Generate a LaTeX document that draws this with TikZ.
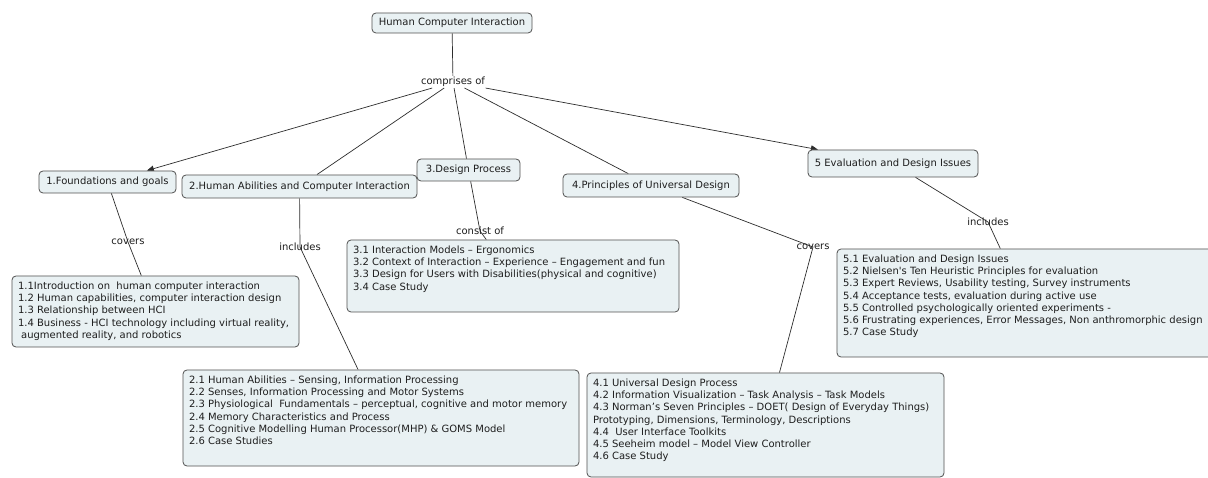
\documentclass[tikz,border=0pt]{standalone}
\usepackage{fontspec}
\setmainfont{DejaVu Sans}
\usetikzlibrary{arrows.meta}
\definecolor{boxfill}{RGB}{233,241,243}
\definecolor{boxdraw}{RGB}{80,80,80}
\definecolor{linkc}{RGB}{45,45,45}
\definecolor{txt}{RGB}{30,30,30}
\pgfdeclarelayer{connlayer}
\pgfsetlayers{connlayer,main}
\newcommand{\boxtext}[3]{\parbox[c][#1][t]{#2}{\fontsize{10}{12.2}\selectfont\raggedright\strut #3}}
\begin{document}
\begin{tikzpicture}[x=1pt,y=-1pt,
  concept/.style={draw=boxdraw, fill=boxfill, rounded corners=4pt, line width=0.8pt,
    inner sep=0pt, text=txt, font=\fontsize{10}{12}\selectfont},
  topicbox/.style={concept, inner xsep=6pt, inner ysep=5pt},
  linklbl/.style={inner sep=1pt, text=txt, font=\fontsize{10}{12}\selectfont},
  conn/.style={draw=linkc, line width=0.7pt},
  arr/.style={conn, -{Triangle[length=7pt,width=6pt]}}]
\useasboundingbox (0,0) rectangle (1208,478);
\clip (0,0) rectangle (1208,478);
\begin{pgfonlayer}{connlayer}
\fill[white] (0,0) rectangle (1208,478);
\end{pgfonlayer}

% main concepts
\node[concept, minimum width=160pt, minimum height=20pt] (hci) at (452,23) {Human Computer Interaction};
\node[linklbl] (comp) at (453,82) {comprises of};
\node[concept, minimum width=137pt, minimum height=22pt] (t1) at (107.5,182) {1.Foundations and goals};
\node[concept, minimum width=235pt, minimum height=23pt] (t2) at (299.5,186.5) {2.Human Abilities and Computer Interaction};
\node[concept, minimum width=103pt, minimum height=22pt] (t3) at (468.5,170) {3.Design Process};
\node[concept, minimum width=176pt, minimum height=23pt] (t4) at (651,185.5) {4.Principles of Universal Design};
\node[concept, minimum width=170pt, minimum height=27pt] (t5) at (893,163.5) {5 Evaluation and Design Issues};

% link labels
\node[linklbl] (cov1) at (128,242) {covers};
\node[linklbl] (inc2) at (300,247) {includes};
\node[linklbl] (cons3) at (480,231) {consist of};
\node[linklbl] (cov4) at (813,247) {covers};
\node[linklbl] (inc5) at (988,222) {includes};

% topic boxes
\node[topicbox] (b1) at (155.5,311.5) {\boxtext{61pt}{275pt}{%
\mbox{1.1Introduction on\ \ human computer interaction}\\
\mbox{1.2 Human capabilities, computer interaction design}\\
\mbox{1.3 Relationship between HCI}\\
\mbox{1.4 Business - HCI technology including virtual reality,}\\
\mbox{\ augmented reality, and robotics}}};

\node[topicbox] (b2) at (381,418) {\boxtext{86pt}{384pt}{%
\mbox{2.1 Human Abilities – Sensing, Information Processing}\\
\mbox{2.2 Senses, Information Processing and Motor Systems}\\
\mbox{2.3 Physiological\ \ Fundamentals – perceptual, cognitive and motor memory}\\
\mbox{2.4 Memory Characteristics and Process}\\
\mbox{2.5 Cognitive Modelling Human Processor(MHP) \& GOMS Model}\\
\mbox{2.6 Case Studies}}};

\node[topicbox] (b3) at (513,276) {\boxtext{62pt}{320pt}{%
\mbox{3.1 Interaction Models – Ergonomics}\\
\mbox{3.2 Context of Interaction – Experience – Engagement and fun}\\
\mbox{3.3 Design for Users with Disabilities(physical and cognitive)}\\
\mbox{3.4 Case Study}}};

\node[topicbox] (b4) at (765.5,425) {\boxtext{94pt}{345pt}{%
\mbox{4.1 Universal Design Process}\\
\mbox{4.2 Information Visualization – Task Analysis – Task Models}\\
\mbox{4.3 Norman’s Seven Principles – DOET( Design of Everyday Things)}\\
\mbox{Prototyping, Dimensions, Terminology, Descriptions}\\
\mbox{4.4\ \ User Interface Toolkits}\\
\mbox{4.5 Seeheim model – Model View Controller}\\
\mbox{4.6 Case Study}}};

\node[topicbox] (b5) at (1025.5,303) {\boxtext{98pt}{365pt}{%
\mbox{5.1 Evaluation and Design Issues}\\
\mbox{5.2 Nielsen\textquotesingle s Ten Heuristic Principles for evaluation}\\
\mbox{5.3 Expert Reviews, Usability testing, Survey instruments}\\
\mbox{5.4 Acceptance tests, evaluation during active use}\\
\mbox{5.5 Controlled psychologically oriented experiments -}\\
\mbox{5.6 Frustrating experiences, Error Messages, Non anthromorphic design}\\
\mbox{5.7 Case Study}}};

% connectors (behind the nodes)
\begin{pgfonlayer}{connlayer}
\draw[conn] (hci) -- (comp);
\draw[arr] (comp) -- (t1);
\draw[conn] (comp) -- (t2);
\draw[conn] (comp) -- (t3);
\draw[conn] (comp) -- (t4);
\draw[arr] (comp) -- (t5);
\draw[conn] (t1) -- (cov1.center) -- (b1);
\draw[conn] (t2) -- (inc2.center) -- (b2);
\draw[conn] (t3) -- (cons3.center) -- (b3);
\draw[conn] (t4) -- (cov4.center) -- (b4);
\draw[conn] (t5) -- (inc5.center) -- (b5);
\end{pgfonlayer}
\end{tikzpicture}
\end{document}
